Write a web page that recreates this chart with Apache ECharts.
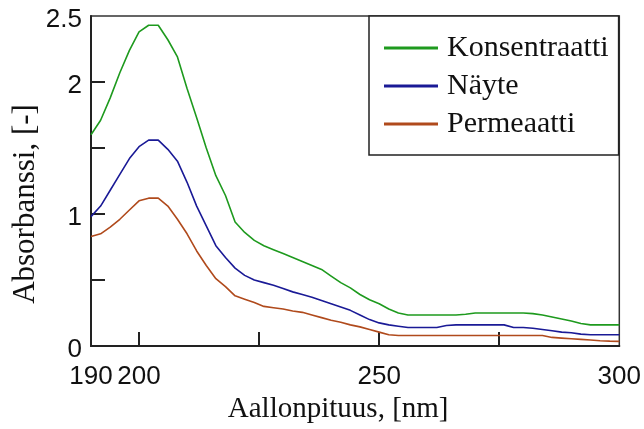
<!DOCTYPE html>
<html>
<head>
<meta charset="utf-8">
<script src="https://cdn.jsdelivr.net/npm/echarts@6/dist/echarts.min.js"></script>
<style>html,body{margin:0;padding:0;background:#fff}#c{width:644px;height:429px}</style>
</head>
<body>
<div id="c"></div>
<script>
const wavelengths = [190,192,194,196,198,200,202,204,206,208,210,212,214,216,218,220,222,224,226,228,230,232,234,236,238,240,242,244,246,248,250,252,254,256,258,260,262,264,266,268,270,272,274,276,278,280,282,284,286,288,290,292,294,296,298,300];
const konsentraatti = [1.60,1.71,1.88,2.07,2.24,2.38,2.43,2.43,2.32,2.19,1.95,1.73,1.50,1.29,1.14,0.94,0.86,0.80,0.76,0.73,0.70,0.67,0.64,0.61,0.58,0.53,0.48,0.44,0.39,0.35,0.32,0.28,0.25,0.235,0.235,0.235,0.235,0.235,0.235,0.24,0.25,0.25,0.25,0.25,0.25,0.25,0.245,0.235,0.22,0.205,0.19,0.17,0.16,0.16,0.16,0.16];
const nayte = [0.98,1.06,1.18,1.30,1.42,1.51,1.56,1.56,1.49,1.40,1.24,1.06,0.91,0.76,0.67,0.59,0.535,0.50,0.48,0.46,0.435,0.41,0.39,0.37,0.345,0.32,0.295,0.27,0.235,0.20,0.175,0.16,0.15,0.14,0.14,0.14,0.14,0.155,0.16,0.16,0.16,0.16,0.16,0.16,0.14,0.14,0.135,0.125,0.115,0.105,0.10,0.09,0.085,0.085,0.085,0.085];
const permeaatti = [0.83,0.85,0.90,0.96,1.03,1.10,1.12,1.12,1.06,0.96,0.85,0.72,0.61,0.51,0.45,0.38,0.355,0.33,0.30,0.29,0.28,0.265,0.255,0.235,0.215,0.195,0.18,0.16,0.145,0.125,0.105,0.085,0.08,0.08,0.08,0.08,0.08,0.08,0.08,0.08,0.08,0.08,0.08,0.08,0.08,0.08,0.08,0.08,0.065,0.06,0.055,0.05,0.045,0.04,0.037,0.035];
const seriesNames = ['Konsentraatti','Näyte','Permeaatti'];
const xTickLabels = [190,200,250,300];
const xTickMarks = [200,225,250,275];
const yTickLabels = [0,1,2,2.5];
const yTickMarks = [0.5,1,1.5,2];
const colors = ['#1e9a1e','#1a1a96','#b04a1c'];

const chart = echarts.init(document.getElementById('c'), null, {renderer:'canvas'});
const serif = 'Liberation Serif';
const sans = 'Liberation Sans';
const mk = (arr) => wavelengths.map((w,i)=>[w,arr[i]]);
chart.setOption({
  animation:false,
  backgroundColor:'#fff',
  grid:{left:91,right:24,top:16,bottom:78,show:true,borderColor:'#333',borderWidth:1.5},
  legend:{
    orient:'vertical', left:369, top:16,
    padding:[14,10,13,15], itemGap:2,
    itemWidth:54, itemHeight:3, icon:'rect',
    borderColor:'#222', borderWidth:1.5, backgroundColor:'#fff',
    textStyle:{fontFamily:serif,fontSize:30,color:'#111',lineHeight:36,padding:[0,0,0,4]},
    data:seriesNames
  },
  xAxis:{
    type:'value', min:190, max:300, interval:5,
    name:'Aallonpituus, [nm]', nameLocation:'middle', nameGap:49, nameMoveOverlap:false,
    nameTextStyle:{fontFamily:serif,fontSize:29,color:'#111',padding:[0,34,0,0]},
    axisLine:{show:true,lineStyle:{color:'#222',width:2}},
    axisTick:{show:true,inside:true,length:14,customValues:xTickMarks,lineStyle:{color:'#222',width:2}},
    axisLabel:{customValues:xTickLabels,fontFamily:sans,fontSize:26,color:'#111',margin:18},
    splitLine:{show:false}
  },
  yAxis:{
    type:'value', min:0, max:2.5, interval:0.5,
    name:'Absorbanssi, [-]', nameLocation:'middle', nameGap:50, nameMoveOverlap:false,
    nameTextStyle:{fontFamily:serif,fontSize:31,color:'#111',padding:[0,46,0,0]},
    axisLine:{show:true,lineStyle:{color:'#222',width:2}},
    axisTick:{show:true,inside:true,length:14,customValues:yTickMarks,lineStyle:{color:'#222',width:2}},
    axisLabel:{customValues:yTickLabels,fontFamily:sans,fontSize:26,color:'#111',margin:9,
      verticalAlign:'top',lineHeight:8,
      formatter:(v)=>String(v)},
    splitLine:{show:false}
  },
  series:[
    {name:seriesNames[0],type:'line',data:mk(konsentraatti),showSymbol:false,color:colors[0],lineStyle:{width:1.6}},
    {name:seriesNames[1],type:'line',data:mk(nayte),showSymbol:false,color:colors[1],lineStyle:{width:1.6}},
    {name:seriesNames[2],type:'line',data:mk(permeaatti),showSymbol:false,color:colors[2],lineStyle:{width:1.6}}
  ]
});
</script>
</body>
</html>
